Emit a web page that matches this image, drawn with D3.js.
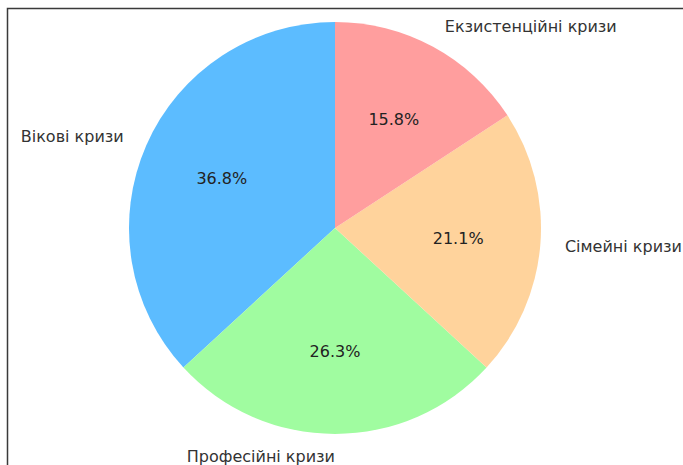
<!DOCTYPE html>
<html>
<head>
<meta charset="utf-8">
<script src="https://cdn.jsdelivr.net/npm/d3@7"></script>
<style>
html,body{margin:0;padding:0;background:#fff;}
svg{display:block;}
</style>
</head>
<body>
<script>
const categories = ["Вікові кризи", "Професійні кризи", "Сімейні кризи", "Екзистенційні кризи"];
const values = [7, 5, 4, 3];
const colors = ["#5cbcff", "#a0fca0", "#ffd39c", "#ff9e9e"];

const W = 683, H = 465;
const cx = 335, cy = 228, R = 206;

const svg = d3.select("body").append("svg").attr("width", W).attr("height", H);
svg.append("rect").attr("width", W).attr("height", H).attr("fill", "#fff");
svg.append("rect").attr("x", 7.5).attr("y", 8.5).attr("width", 700).attr("height", 500)
  .attr("fill", "none").attr("stroke", "#3a3a3a").attr("stroke-width", 1.5);

const total = d3.sum(values);
const pie = d3.pie().sort(null).startAngle(0).endAngle(-2 * Math.PI);
const arcs = pie(values);
const arc = d3.arc().innerRadius(0).outerRadius(R);

const g = svg.append("g").attr("transform", `translate(${cx},${cy})`);
g.selectAll("path").data(arcs).join("path")
  .attr("d", arc)
  .attr("fill", (d, i) => colors[i]);

const font = "DejaVu Sans, sans-serif";
arcs.forEach((d, i) => {
  const a = (d.startAngle + d.endAngle) / 2;
  const sx = Math.sin(a), sy = -Math.cos(a);
  g.append("text")
    .attr("x", sx * R * 1.12).attr("y", sy * R * 1.11)
    .attr("text-anchor", sx > 0 ? "start" : "end")
    .attr("dominant-baseline", "central")
    .attr("font-family", font).attr("font-size", 16)
    .attr("fill", "#333")
    .text(categories[i]);
  g.append("text")
    .attr("x", sx * R * 0.6).attr("y", sy * R * 0.6)
    .attr("text-anchor", "middle")
    .attr("dominant-baseline", "central")
    .attr("font-family", font).attr("font-size", 16)
    .attr("fill", "#222")
    .text((values[i] / total * 100).toFixed(1) + "%");
});
</script>
</body>
</html>
